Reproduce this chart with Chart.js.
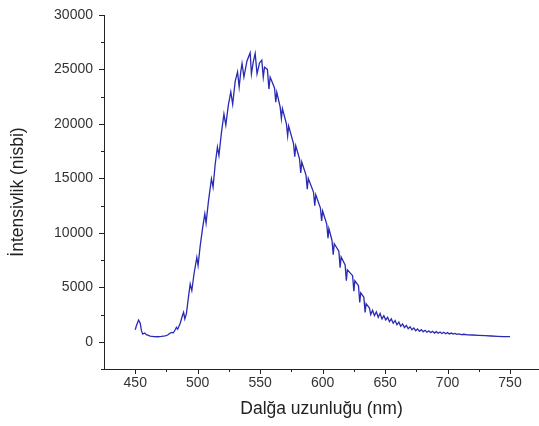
<!DOCTYPE html>
<html>
<head>
<meta charset="utf-8">
<script src="https://cdn.jsdelivr.net/npm/chart.js@4/dist/chart.umd.min.js"></script>
<style>
  html,body{margin:0;padding:0;background:#fff;}
  #wrap{width:539px;height:426px;position:relative;}
</style>
</head>
<body>
<div id="wrap"><canvas id="c" width="539" height="426"></canvas></div>
<script>
// Wavelength (nm)
const wavelengths = [450,451,452.7,454,455,456,457.5,459,462,465,468,471,474,476,477.5,479,480.5,482,483,484,486,487.5,488.7,489.7,491,492.5,494,495.3,497,499.3,500.3,502,504,505.7,506.7,508.5,511,512.3,514,515.8,517,519,521,522.5,524.5,526.5,528,530,531.9,533.2,534.5,535.5,537,539.5,542,543,544.5,546,547.5,549.5,551.3,552.5,553.5,555.8,557,558,561.5,562.5,563.3,566,567,567.8,571,572,572.8,576.7,577.7,578.5,581.5,582.5,583.3,586.7,587.7,588.5,592.7,593.7,594.5,598.2,599.2,600,603.3,604.3,605,607.5,608.5,609.3,613,614,614.8,618,619,619.8,624,625,625.8,628.7,629.7,630.5,633,634,634.8,637.5,638.5,640,641.5,643,644.5,646,647.5,649,650.5,652,653.5,655,656.5,658,659.5,661,662.5,664,665.5,667,668.5,670,671.5,673,674.5,676,677.5,679,680.5,682,683.5,685,686.5,688,689.5,691,692.5,694,695.5,697,698.5,700,701.5,703,704.5,706,707.5,709,711,713,716,720,725,730,735,740,745,750];
// Relative intensity
const intensities = [1100,1500,2000,1700,1000,700,800,650,520,470,460,490,550,620,760,860,820,1100,1320,1150,1700,2300,2700,2100,2600,4000,5300,4700,6200,7760,7000,8800,10500,11750,10900,12800,14970,14200,16300,17880,17100,19200,20900,19900,21700,22940,21800,23900,24780,23400,24800,25550,24300,25800,26530,24600,25700,26470,24600,25600,25860,24300,25200,25000,23200,24300,23300,22000,22900,21560,20500,21400,20030,18900,19800,18190,17000,18000,16800,15500,16500,15300,14000,15000,13740,12500,13500,12300,11100,12000,10800,9500,10400,9300,8000,9000,8310,6800,7800,7060,5600,6600,6070,4650,5600,5150,3600,4500,4080,2700,3500,3100,2500,2900,2400,2750,2250,2600,2100,2400,2000,2250,1850,2100,1700,1950,1560,1800,1420,1640,1300,1500,1200,1380,1100,1270,1020,1180,960,1110,920,1050,880,1000,840,960,800,930,780,900,760,870,740,840,720,800,700,760,680,720,660,690,640,620,590,560,530,500,480,465,455];

const xTicks = [450,500,550,600,650,700,750];
const xMinorTicks = [475,525,575,625,675,725];
const yTicks = [0,5000,10000,15000,20000,25000,30000];
const yMinorTicks = [-2500,2500,7500,12500,17500,22500,27500];

const xLabel = 'Dalğa uzunluğu (nm)';
const yLabel = 'İntensivlik (nisbi)';

const points = wavelengths.map((w,i)=>({x:w,y:intensities[i]}));

const tickPlugin = {
  id:'tickMarks',
  afterDraw(chart){
    const ctx = chart.ctx;
    const xs = chart.scales.x, ys = chart.scales.y;
    const a = chart.chartArea;
    ctx.save();
    ctx.strokeStyle = '#222';
    ctx.lineWidth = 1;
    ctx.beginPath();
    xTicks.forEach(v=>{const p=Math.round(xs.getPixelForValue(v))+0.5;ctx.moveTo(p,a.bottom);ctx.lineTo(p,a.bottom+5);});
    xMinorTicks.forEach(v=>{const p=Math.round(xs.getPixelForValue(v))+0.5;ctx.moveTo(p,a.bottom);ctx.lineTo(p,a.bottom+3);});
    yTicks.forEach(v=>{const p=Math.round(ys.getPixelForValue(v))+0.5;ctx.moveTo(a.left,p);ctx.lineTo(a.left-5,p);});
    yMinorTicks.forEach(v=>{const p=Math.round(ys.getPixelForValue(v))+0.5;ctx.moveTo(a.left,p);ctx.lineTo(a.left-3,p);});
    ctx.stroke();
    ctx.restore();
  }
};

new Chart(document.getElementById('c'),{
  type:'line',
  data:{datasets:[{data:points,borderColor:'#2a2ab4',borderWidth:1.3,pointRadius:0,tension:0,fill:false}]},
  options:{
    responsive:false,
    animation:false,
    layout:{padding:{top:15,right:0,bottom:0,left:0}},
    plugins:{legend:{display:false},tooltip:{enabled:false}},
    scales:{
      x:{
        type:'linear',min:425,max:773.2,
        afterBuildTicks:s=>{s.ticks=xTicks.map(v=>({value:v}));},
        afterFit:s=>{s.height=57;s.paddingLeft=0;s.paddingRight=0;},
        grid:{display:true,drawOnChartArea:false,drawTicks:false},
        border:{display:true,color:'#222',width:1},
        ticks:{padding:6,color:'#333',font:{family:'Liberation Sans',size:14},maxRotation:0,autoSkip:false,callback:v=>String(v)},
        title:{display:true,text:xLabel,color:'#222',font:{family:'Liberation Sans',size:17.5},padding:{top:6,bottom:6}}
      },
      y:{
        type:'linear',min:-2500,max:30000,
        afterBuildTicks:s=>{s.ticks=yTicks.map(v=>({value:v}));},
        afterFit:s=>{s.width=104;s.paddingTop=0;s.paddingBottom=0;},
        grid:{display:true,drawOnChartArea:false,drawTicks:false},
        border:{display:true,color:'#222',width:1},
        ticks:{padding:11,color:'#333',font:{family:'Liberation Sans',size:14},autoSkip:false,callback:v=>String(v)},
        title:{display:true,text:yLabel,color:'#222',font:{family:'Liberation Sans',size:17.5},padding:{top:8,bottom:8}}
      }
    }
  },
  plugins:[tickPlugin]
});
</script>
</body>
</html>
